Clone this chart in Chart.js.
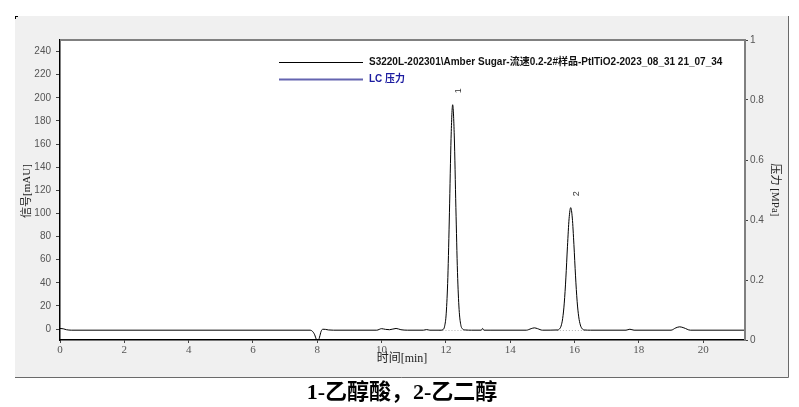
<!DOCTYPE html>
<html>
<head>
<meta charset="utf-8">
<script src="https://cdn.jsdelivr.net/npm/chart.js@4"></script>
<style>
  html, body { margin: 0; padding: 0; background: #fff; }
  #wrap { width: 799px; height: 407px; position: relative; }
</style>
</head>
<body>
<div id="wrap"><canvas id="chrom"></canvas></div>
<script>
// 色谱数据 (时间 min / 信号 mAU)
const timeMin = [0, 0.1, 0.2, 0.35,
  7.78, 7.85, 7.92, 7.97, 8.02, 8.07, 8.12, 8.17, 8.25, 8.35, 8.5,
  9.85, 10.0, 10.12, 10.25, 10.45, 10.6, 10.8,
  11.3, 11.4, 11.5,
  11.85, 11.91, 11.96, 12.01, 12.06, 12.11, 12.16, 12.21, 12.26, 12.31, 12.36, 12.41, 12.46, 12.52, 12.6,
  12.8, 13.1, 13.14, 13.18, 13.4,
  14.5, 14.65, 14.75, 14.85, 15.0,
  15.48, 15.53, 15.58, 15.63, 15.68, 15.73, 15.78, 15.83, 15.88, 15.93, 15.98, 16.03, 16.08, 16.13, 16.18, 16.23, 16.3,
  16.5, 17.6, 17.72, 17.85,
  19.0, 19.15, 19.27, 19.4, 19.6, 21.3];
const signal = [0.5, 0.2, -0.6, -1,
  -1, -2, -5, -9, -11, -7, -2, -0.2, -0.3, -0.8, -1,
  -1, 0.3, -0.3, -0.6, 0.5, -0.6, -1,
  -1, -0.5, -1,
  -1, -0.5, 2.4, 13.7, 44.6, 101, 165, 194, 167, 105, 49, 17, 4, 0, -0.8,
  -1, -1, 0.5, -1, -1,
  -1, 0.3, 1, 0.3, -1,
  -0.8, 0, 2.5, 9, 22.4, 44.2, 71.6, 95.4, 105, 96, 73, 46, 24, 10.5, 3.5, 0.5, -0.8,
  -1, -1, -0.2, -1,
  -1, 1, 1.9, 1, -1, -1];

// 积分基线
const base1Time = [11.8, 12.65];
const base1Val = [-1.3, -1.3];
const base2Time = [15.45, 16.35];
const base2Val = [-1.3, -1.3];

// 峰标记
const peakNames = ['1', '2'];
const peakTimes = [12.21, 15.88];
const peakHeights = [194, 105];

const xTicks = [0, 2, 4, 6, 8, 10, 12, 14, 16, 18, 20];
const yTicks = [0, 20, 40, 60, 80, 100, 120, 140, 160, 180, 200, 220, 240];
const y1Ticks = [0, 0.2, 0.4, 0.6, 0.8, 1];

const seriesLabels = ['S3220L-202301\\Amber Sugar-流速0.2-2#样品-PtITiO2-2023_08_31 21_07_34', 'LC 压力'];
const caption = '1-乙醇酸，2-乙二醇';

const zip = (xs, ys) => xs.map((x, i) => ({ x: x, y: ys[i] }));

const sans = '"Liberation Sans", Arial, "Noto Sans CJK SC", sans-serif';
const serif = '"Liberation Serif", "Times New Roman", "Noto Sans CJK SC", serif';

// 背景面板、边框、文字
const decor = {
  id: 'decor',
  beforeDraw(chart) {
    const ctx = chart.ctx;
    const a = chart.chartArea;
    ctx.save();
    ctx.fillStyle = '#f0f0f0';
    ctx.fillRect(15, 16, 773, 361);
    ctx.strokeStyle = '#6a6a6a';
    ctx.lineWidth = 1;
    ctx.beginPath();
    ctx.moveTo(15, 377.5); ctx.lineTo(788.5, 377.5); ctx.lineTo(788.5, 16);
    ctx.stroke();
    ctx.fillStyle = '#000';
    ctx.fillRect(15, 16, 3, 1);
    ctx.fillRect(15, 16, 1, 3);
    ctx.fillStyle = '#fff';
    ctx.fillRect(a.left, a.top, a.right - a.left, a.bottom - a.top);
    ctx.restore();
  },
  afterDraw(chart) {
    const ctx = chart.ctx;
    const a = chart.chartArea;
    const xs = chart.scales.x, ys = chart.scales.y;
    ctx.save();
    // 上、右边框
    ctx.strokeStyle = '#808080';
    ctx.lineWidth = 2;
    ctx.beginPath();
    ctx.moveTo(a.left, a.top); ctx.lineTo(a.right, a.top); ctx.lineTo(a.right, a.bottom);
    ctx.stroke();

    // 图例
    const ds = chart.data.datasets;
    [0, 1].forEach((i, k) => {
      const y = 62 + k * 17;
      ctx.strokeStyle = k === 0 ? '#000' : '#6464b0';
      ctx.lineWidth = k === 0 ? 1 : 2;
      ctx.beginPath(); ctx.moveTo(279, y + 0.5); ctx.lineTo(363, y + 0.5); ctx.stroke();
      ctx.fillStyle = k === 0 ? '#111' : '#1c1ca0';
      ctx.font = 'bold 10px ' + sans;
      ctx.textBaseline = 'middle';
      ctx.textAlign = 'left';
      ctx.fillText(ds[i].label, 369, y);
    });

    // 峰号
    ctx.fillStyle = '#333';
    ctx.font = '9px ' + sans;
    peakNames.forEach((n, i) => {
      const px = xs.getPixelForValue(peakTimes[i]) + 6;
      const py = ys.getPixelForValue(peakHeights[i]) - 14;
      ctx.save();
      ctx.translate(px, py);
      ctx.rotate(-Math.PI / 2);
      ctx.textAlign = 'center'; ctx.textBaseline = 'middle';
      ctx.fillText(n, 0, 0);
      ctx.restore();
    });

    // 轴标题
    ctx.fillStyle = '#222';
    ctx.textAlign = 'center'; ctx.textBaseline = 'middle';
    ctx.font = '11px ' + serif;
    ctx.save(); ctx.translate(27, 191); ctx.rotate(-Math.PI / 2);
    ctx.fillText('信号[mAU]', 0, 0); ctx.restore();
    ctx.save(); ctx.translate(775, 190); ctx.rotate(Math.PI / 2);
    ctx.fillText('压力 [MPa]', 0, 0); ctx.restore();
    ctx.font = '12px ' + serif;
    ctx.fillText('时间[min]', 402, 359);

    // 图注
    ctx.fillStyle = '#000';
    ctx.font = 'bold 22px ' + serif;
    ctx.fillText(caption, 402, 393);
    ctx.restore();
  }
};

new Chart(document.getElementById('chrom'), {
  type: 'line',
  data: {
    datasets: [
      { label: seriesLabels[0], data: zip(timeMin, signal), borderColor: '#000', borderWidth: 1,
        pointRadius: 0, cubicInterpolationMode: 'monotone', yAxisID: 'y' },
      { label: seriesLabels[1], data: [], borderColor: '#6464b0', borderWidth: 2, pointRadius: 0, yAxisID: 'y1' },
      { label: 'base1', data: zip(base1Time, base1Val), borderColor: '#b0b0b0', borderWidth: 1,
        borderDash: [1, 2], pointRadius: 0, yAxisID: 'y' },
      { label: 'base2', data: zip(base2Time, base2Val), borderColor: '#b0b0b0', borderWidth: 1,
        borderDash: [1, 2], pointRadius: 0, yAxisID: 'y' }
    ]
  },
  options: {
    responsive: true,
    maintainAspectRatio: false,
    animation: false,
    layout: { padding: { left: 0, right: 0, top: 40, bottom: 47 } },
    plugins: { legend: { display: false }, tooltip: { enabled: false } },
    scales: {
      x: {
        type: 'linear', min: 0, max: 21.3,
        afterFit: s => { s.height = 20; },
        afterBuildTicks: s => { s.ticks = xTicks.map(v => ({ value: v })); },
        ticks: { color: '#555', font: { family: serif, size: 11 }, padding: 1, maxRotation: 0 },
        grid: { drawOnChartArea: false, tickLength: 3, color: '#444' },
        border: { color: '#000', width: 1.5 }
      },
      y: {
        position: 'left', min: -9.5, max: 250,
        afterFit: s => { s.width = 60; },
        afterBuildTicks: s => { s.ticks = yTicks.map(v => ({ value: v })); },
        ticks: { color: '#555', font: { family: sans, size: 10 }, padding: 5 },
        grid: { drawOnChartArea: false, tickLength: 4, color: '#444' },
        border: { color: '#000', width: 1.5 }
      },
      y1: {
        position: 'right', min: 0, max: 1,
        afterFit: s => { s.width = 54; },
        afterBuildTicks: s => { s.ticks = y1Ticks.map(v => ({ value: v })); },
        ticks: { color: '#555', font: { family: sans, size: 10 }, padding: 2, callback: v => String(v) },
        grid: { drawOnChartArea: false, tickLength: 3, color: '#444' },
        border: { color: '#808080', width: 2 }
      }
    }
  },
  plugins: [decor]
});
</script>
</body>
</html>
